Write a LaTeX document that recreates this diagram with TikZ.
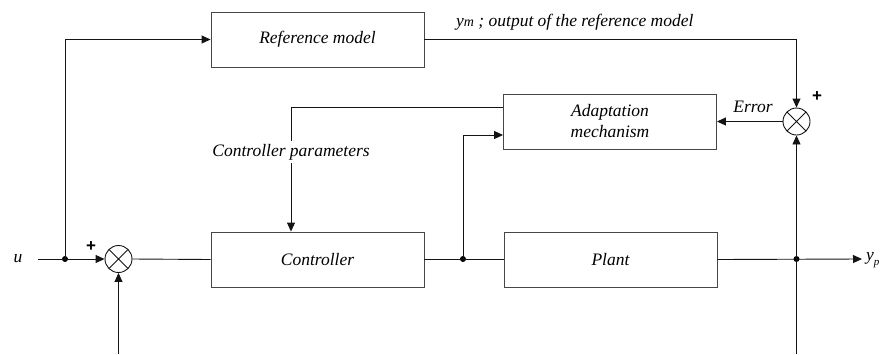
\documentclass[tikz,border=0pt]{standalone}
\usepackage{fontspec}
\setmainfont{Liberation Serif}
\newfontfamily\plusfont{Liberation Sans}
\usepackage{xcolor}
\usepackage{tikz}
\usetikzlibrary{
  arrows.meta,
  positioning,
  calc
}
\definecolor{boxgray}{RGB}{70,70,70}
\definecolor{linegray}{RGB}{20,20,20}
\tikzset{
  blockbox/.style={
    draw=boxgray,
    line width=0.9pt,
    minimum width=213pt,
    minimum height=55pt,
    inner sep=0pt,
    align=center,
    font=\fontsize{17.5}{21}\selectfont\itshape
  },
  sumjunction/.style={
    circle,
    draw=linegray,
    line width=0.9pt,
    minimum size=27pt,
    inner sep=0pt,
    path picture={
      \draw[line width=0.9pt] (path picture bounding box.south west) -- (path picture bounding box.north east)
        (path picture bounding box.north west) -- (path picture bounding box.south east);
    }
  },
  branchdot/.style={circle,fill=black,inner sep=0pt,minimum size=6pt},
  sigline/.style={draw=linegray,line width=0.9pt},
  sigarrow/.style={sigline,-{Triangle[length=9pt,width=8pt]}},
  sigtext/.style={font=\fontsize{17.5}{21}\selectfont\itshape,inner sep=1pt},
  plussign/.style={font=\fontsize{17}{17}\selectfont\plusfont\bfseries,inner sep=0pt},
}

\begin{document}
\begin{tikzpicture}[x=1pt,y=-1pt]
  \useasboundingbox (0,0) rectangle (884,354);
  % Blocks
  \node[blockbox] (refmodel) at (317.5,39.5) {Reference model};
  \node[blockbox] (adapt) at (610,121.5) {Adaptation\\mechanism};
  \node[blockbox] (ctrl) at (317.5,259.5) {Controller};
  \node[blockbox] (plant) at (610.5,259.5) {Plant};
  \node[sumjunction] (sumL) at (118.5,259) {};
  \node[sumjunction] (sumR) at (796.5,121.5) {};

  % Branch points and free ends
  \node[branchdot] (splitu) at (65,259) {};
  \node[branchdot] (splitc) at (463,259) {};
  \node[branchdot] (splitp) at (796.5,259) {};
  \coordinate (uin) at (38,259);
  \coordinate (ypout) at (862,259);
  \coordinate (botL) at (118.5,354);
  \coordinate (botR) at (796.5,354);
  \coordinate (adaptin) at ([yshift=-13.5pt]adapt.west);
  \coordinate (adaptout) at ([yshift=14.5pt]adapt.west);
  \coordinate (ctrlin) at ([xshift=-26.5pt]ctrl.north);

  % Forward path
  \draw[sigarrow] (uin) -- (sumL.west);
  \draw[sigarrow] (splitu.center) |- (refmodel.west);
  \draw[sigline] (sumL.east) -- (ctrl.west);
  \draw[sigline] (ctrl.east) -- (plant.west);
  \draw[sigarrow] (plant.east) -- (ypout);
  \draw[sigarrow] (botL) -- (sumL.south);

  % Adaptation loop
  \draw[sigarrow] (refmodel.east) -| (sumR.north);
  \draw[sigarrow] (botR) -- (sumR.south);
  \draw[sigarrow] (sumR.west) -- (adapt.east);
  \draw[sigarrow] (splitc.center) |- (adaptin);
  \draw[sigarrow] (adaptout) -| (ctrlin);

  % Labels
  \node[sigtext] (ulabel) at (18,259) {u};
  \node[sigtext,anchor=west] (yplabel) at (865,260) {y\raisebox{-0.6ex}{\fontsize{11}{11}\selectfont p}};
  \node[sigtext,anchor=west] (ymlabel) at (455,22) {y{\fontsize{14}{14}\selectfont m} ; output of the reference model};
  \node[sigtext] (errlabel) at (753,107) {Error};
  \node[sigtext,fill=white,inner ysep=3pt] (paramlabel) at (291,152) {Controller parameters};
  \node[plussign] (plusL) at (91,247) {+};
  \node[plussign] (plusR) at (817,97) {+};
\end{tikzpicture}
\end{document}
